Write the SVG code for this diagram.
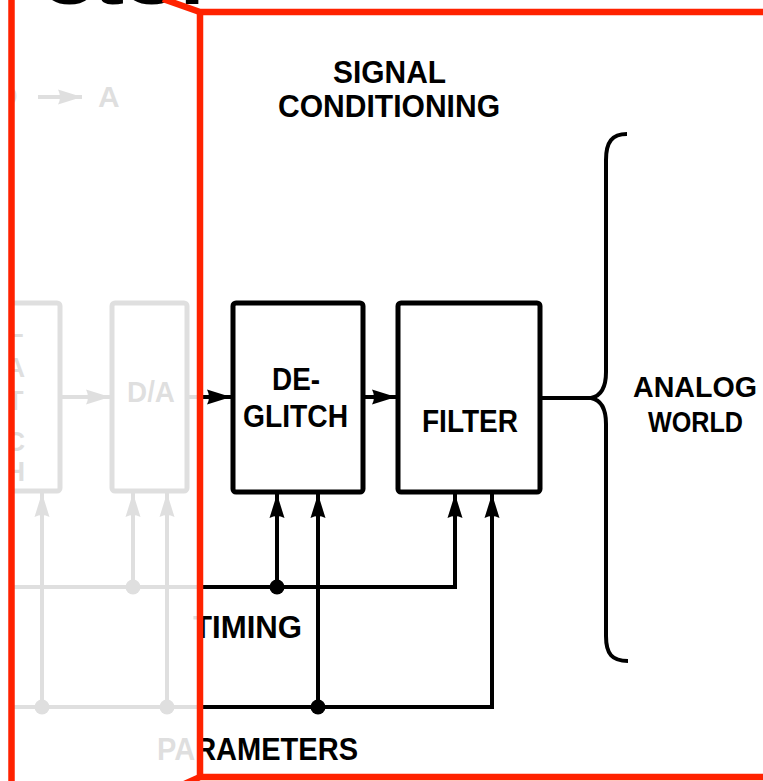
<svg xmlns="http://www.w3.org/2000/svg" width="763" height="781" viewBox="0 0 763 781">
  <style>
    .lbl { font-family: "Liberation Sans", Arial, sans-serif; font-weight: bold; fill: #000; }
    .box { fill: none; stroke: #000; stroke-width: 5; stroke-linejoin: round; }
    .wire { fill: none; stroke: #000; stroke-width: 4; }
    .arr { marker-end: url(#ah); }
    .dot { fill: #000; }
    .red { fill: none; stroke: #ff2200; stroke-width: 6.5; stroke-linejoin: miter; }
  </style>
  <defs>
    <marker id="ah" viewBox="0 0 24 18" refX="24" refY="9" markerWidth="24" markerHeight="18" markerUnits="userSpaceOnUse" orient="auto">
      <path d="M0,1.5 Q4,9 0,16.5 L24,9 Z" fill="#000"/>
    </marker>
  </defs>

  <!-- title fragment at top -->
  <text class="lbl" x="43" y="4" font-size="60" textLength="172" lengthAdjust="spacingAndGlyphs">ctor</text>

  <!-- faded left section nodes -->
  <g id="d-to-a-label">
    <text class="lbl" x="-4" y="106" font-size="30">D</text>
    <text class="lbl" x="98" y="107" font-size="30">A</text>
  </g>
  <g id="latch">
    <rect class="box" x="-40" y="303" width="100" height="188" rx="3"/>
    <g class="lbl" font-size="28" text-anchor="middle">
      <text x="15" y="337">L</text>
      <text x="15" y="377">A</text>
      <text x="15" y="410">T</text>
      <text x="15" y="451">C</text>
      <text x="15" y="481">H</text>
    </g>
  </g>
  <g id="da">
    <rect class="box" x="112" y="303" width="75" height="188" rx="3"/>
    <text class="lbl" x="127" y="402" font-size="30" textLength="48" lengthAdjust="spacingAndGlyphs">D/A</text>
  </g>

  <!-- main nodes -->
  <g id="deglitch">
    <rect class="box" x="233" y="303" width="130" height="189" rx="3"/>
    <text class="lbl" x="272" y="390" font-size="32" textLength="48" lengthAdjust="spacingAndGlyphs">DE-</text>
    <text class="lbl" x="243" y="427" font-size="32" textLength="105" lengthAdjust="spacingAndGlyphs">GLITCH</text>
  </g>
  <g id="filter">
    <rect class="box" x="398" y="303" width="142" height="189" rx="3"/>
    <text class="lbl" x="422" y="432" font-size="32" textLength="96" lengthAdjust="spacingAndGlyphs">FILTER</text>
  </g>
  <g id="signal-conditioning">
    <text class="lbl" x="389.5" y="83" font-size="32" text-anchor="middle" textLength="113" lengthAdjust="spacingAndGlyphs">SIGNAL</text>
    <text class="lbl" x="389" y="117" font-size="32" text-anchor="middle" textLength="222" lengthAdjust="spacingAndGlyphs">CONDITIONING</text>
  </g>
  <g id="analog-world">
    <path class="wire" stroke-width="3.5" d="M627,134 C612,134 606,142 606,160 L606,372 C606,388 601,396 591,398 C601,400 606,408 606,424 L606,636 C606,654 612,661 628,661"/>
    <text class="lbl" x="633" y="397" font-size="29" textLength="124" lengthAdjust="spacingAndGlyphs">ANALOG</text>
    <text class="lbl" x="648" y="432" font-size="29" textLength="95" lengthAdjust="spacingAndGlyphs">WORLD</text>
  </g>
  <g id="timing">
    <text class="lbl" x="193" y="638" font-size="32" textLength="109" lengthAdjust="spacingAndGlyphs">TIMING</text>
  </g>
  <g id="parameters">
    <text class="lbl" x="157" y="760" font-size="32" textLength="201" lengthAdjust="spacingAndGlyphs">PARAMETERS</text>
  </g>

  <!-- connectors -->
  <g id="connectors">
    <line class="wire arr" x1="38" y1="97" x2="82" y2="97"/>
    <line class="wire arr" x1="60" y1="397" x2="110" y2="397"/>
    <line class="wire arr" x1="187" y1="397" x2="231" y2="397"/>
    <line class="wire arr" x1="363" y1="397" x2="396" y2="397"/>
    <line class="wire" x1="540" y1="398" x2="592" y2="398"/>
    <!-- timing bus -->
    <polyline class="wire arr" points="0,587 455,587 455,494"/>
    <line class="wire arr" x1="277" y1="587" x2="277" y2="494"/>
    <line class="wire arr" x1="133" y1="587" x2="133" y2="493"/>
    <!-- parameters bus -->
    <polyline class="wire arr" points="0,707 492,707 492,494"/>
    <line class="wire arr" x1="318" y1="707" x2="318" y2="494"/>
    <line class="wire arr" x1="42" y1="707" x2="42" y2="493"/>
    <line class="wire arr" x1="167" y1="707" x2="167" y2="493"/>
    <circle class="dot" cx="277" cy="587" r="7.5"/>
    <circle class="dot" cx="133" cy="587" r="7.5"/>
    <circle class="dot" cx="318" cy="707" r="7.5"/>
    <circle class="dot" cx="42" cy="707" r="7.5"/>
    <circle class="dot" cx="167" cy="707" r="7.5"/>
  </g>

  <!-- fade of the left section -->
  <rect x="8" y="14" width="192" height="767" fill="#fff" fill-opacity="0.875"/>
  <rect x="0" y="14" width="9" height="767" fill="#fff"/>

  <!-- red highlight frame -->
  <g id="highlight">
    <line class="red" x1="11.5" y1="0" x2="11.5" y2="781"/>
    <polyline class="red" points="163,-1 200,12 770,12"/>
    <line class="red" x1="200" y1="12" x2="200" y2="777"/>
    <polyline class="red" points="770,777 200,777 180,786"/>
  </g>
</svg>
